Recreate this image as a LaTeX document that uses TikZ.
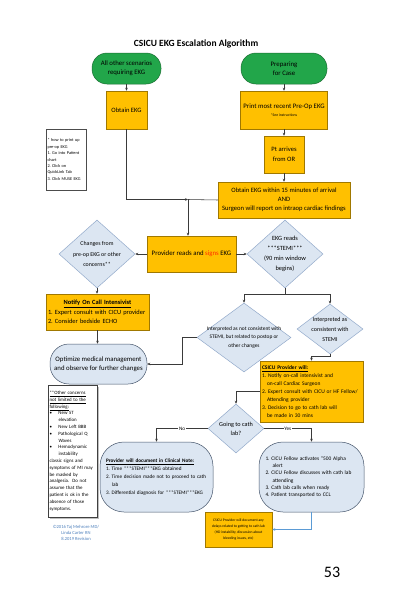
\documentclass[tikz,border=0pt]{standalone}
\usepackage{fontspec}
\setmainfont{Carlito}
\usetikzlibrary{shapes.geometric,arrows.meta,calc,shadows}
\definecolor{grn}{HTML}{22A64A}
\definecolor{grnd}{HTML}{1B6E33}
\definecolor{org}{HTML}{FFC000}
\definecolor{orgd}{HTML}{A07800}
\definecolor{lb}{HTML}{DCE6F2}
\definecolor{lbd}{HTML}{93AACB}
\definecolor{lbdk}{HTML}{44546A}
\definecolor{ln}{HTML}{3A3A3A}
\definecolor{cpy}{HTML}{4F81BD}
\definecolor{arb}{HTML}{5B9BD5}
\definecolor{sred}{HTML}{FF2A00}
\newcommand{\fsz}[2]{\fontsize{#1}{#2}\selectfont}
\newcommand{\bl}{\makebox[9pt][l]{\textbullet}}
\begin{document}
\begin{tikzpicture}[x=1pt,y=-1pt,
 term/.style={rectangle,rounded corners=15pt,fill=grn,draw=grnd,line width=0.5pt,align=center,inner sep=0pt,font=\fsz{6.8}{9}},
 obox/.style={rectangle,fill=org,draw=orgd,line width=0.5pt,align=center,inner sep=0pt},
 dia/.style={diamond,fill=lb,draw=lbd,line width=0.5pt,inner sep=0pt},
 lbox/.style={rectangle,fill=lb,draw=lbdk,line width=0.5pt,inner sep=0pt},
 conn/.style={draw=ln,line width=0.55pt,-{Stealth[length=3pt,width=2.6pt]}},
 plain/.style={draw=ln,line width=0.55pt},
 txt/.style={inner sep=0pt,align=center},
 lab/.style={fill=white,inner sep=0.6pt,font=\fsz{5.2}{6}},
]
\useasboundingbox (0,0) rectangle (400,600);
\fill[white] (0,0) rectangle (400,600);

\node[txt,font=\bfseries\fsz{9.5}{11}] (title) at (196,44) {CSICU EKG Escalation Algorithm};

% green terminators
\node[term,minimum width=69pt,minimum height=31pt] (g1) at (126.5,68.5) {All other scenarios\\requiring EKG};
\node[term,minimum width=86pt,minimum height=31pt] (g2) at (284,68.5) {Preparing\\for Case};

% orange boxes
\node[obox,minimum width=41pt,minimum height=38pt,font=\fsz{6.6}{8}] (o1) at (126.5,110) {Obtain EKG};
\node[obox,minimum width=87pt,minimum height=38pt,font=\fsz{6.8}{8.5}] (o2) at (284,110) {Print most recent Pre-Op EKG\\{\fsz{3.8}{5}*See instructions}};
\node[obox,minimum width=40pt,minimum height=37pt,font=\fsz{6.6}{10}] (o3) at (284,154.5) {Pt arrives\\from OR};
\node[obox,minimum width=132pt,minimum height=36pt,font=\fsz{6.6}{9}] (o4) at (284,200) {Obtain EKG within 15 minutes of arrival\\AND\\Surgeon will report on intraop cardiac findings};
\node[obox,minimum width=89pt,minimum height=36pt,font=\fsz{6.8}{8}] (o5) at (191.5,254) {Provider reads and {\color{sred}signs} EKG};

% note 1
\node[rectangle,draw=black!70,line width=0.4pt,fill=white,minimum width=40pt,minimum height=61pt,inner sep=1.5pt,text width=37pt,align=left,font=\fsz{4.3}{6.4}] (n1) at (66,159.5) {* how to print up\\pre-op EKG\\1.\ Go into Patient\\chart\\2.\ Click on\\QuickLink Tab\\3.\ Click MUSE EKG};

% diamonds
\node[dia,minimum width=76pt,minimum height=68pt] (d1) at (97,254) {};
\node[txt,font=\fsz{5.9}{10.5}] (d1t) at (d1.center) {Changes from\\pre-op EKG or other\\concerns**};
\node[dia,minimum width=76pt,minimum height=68pt] (d2) at (285,254) {};
\node[txt,font=\fsz{6.4}{10}] (d2t) at (d2.center) {EKG reads\\***STEMI***\\(90 min window\\begins)};

% notify box
\node[obox,minimum width=103pt,minimum height=36pt,text width=99pt,align=left,font=\fsz{6.4}{9.5}] (o6) at (97.5,312) {\makebox[\linewidth][c]{\underline{\textbf{Notify On Call Intensivist}}}\\1.\ Expert consult with CICU provider\\2.\ Consider bedside ECHO};

% optimize terminator
\node[lbox,rounded corners=19pt,minimum width=97pt,minimum height=40pt,align=center,font=\fsz{6.8}{9}] (t1) at (98.5,364) {Optimize medical management\\and observe for further changes};

% interpretation diamonds
\node[dia,minimum width=94pt,minimum height=69pt] (d3) at (244,337.5) {};
\node[txt,font=\fsz{5.4}{8.5}] (d3t) at (d3.center) {Interpreted as not consistent with\\STEMI, but related to postop or\\other changes};
\node[dia,minimum width=66pt,minimum height=50pt] (d4) at (330,329) {};
\node[txt,font=\fsz{6}{10}] (d4t) at (d4.center) {Interpreted as\\consistent with\\STEMI};

% CSICU provider box
\node[obox,minimum width=103pt,minimum height=61pt,text width=99pt,align=left,font=\fsz{5.5}{8}] (o7) at (311.5,391.5) {\underline{\textbf{CSICU Provider will:}}\\1.\ Notify on-call intensivist and\\\hspace*{5pt}on-call Cardiac Surgeon\\2.\ Expert consult with CICU or HF Fellow/\\\hspace*{5pt}Attending provider\\3.\ Decision to go to cath lab will\\\hspace*{5pt}be made in 30 mins};

% going to cath lab
\node[dia,minimum width=56pt,minimum height=49pt] (d5) at (236,428.5) {};
\node[txt,font=\fsz{6.2}{9}] (d5t) at (d5.center) {Going to cath\\lab?};

% big rounded boxes
\node[lbox,rounded corners=24pt,minimum width=113pt,minimum height=70pt,text width=101pt,align=left,font=\fsz{5.2}{8}] (b1) at (156.5,477) {\underline{\textbf{Provider will document in Clinical Note:}}\\1.\ Time ***STEMI***EKG obtained\\2.\ Time decision made not to proceed to cath\\\hspace*{6pt}lab\\3.\ Differential diagnosis for ***STEMI***EKG};
\node[lbox,rounded corners=24pt,minimum width=105pt,minimum height=70pt,text width=92pt,align=left,font=\fsz{5.4}{7.3}] (b2) at (311.5,477) {1.\ CICU Fellow activates ``500 Alpha\\\hspace*{7pt}alert\\2.\ CICU Fellow discusses with cath lab\\\hspace*{7pt}attending\\3.\ Cath lab calls when ready\\4.\ Patient transported to CCL};

% small orange box
\node[obox,drop shadow={shadow xshift=1.3pt,shadow yshift=-1.3pt,opacity=0.35},minimum width=67pt,minimum height=35pt,font=\fsz{3.7}{6}] (o8) at (238.5,529.5) {CSICU Provider will document any\\delays related to getting to cath lab\\(HD instability, discussion about\\bleeding issues, etc)};

% note 2
\node[rectangle,draw=black!75,line width=0.5pt,fill=white,drop shadow={shadow xshift=1.5pt,shadow yshift=-1.5pt,opacity=0.5},minimum width=49pt,minimum height=132pt,inner sep=1.5pt,text width=46pt,align=left,font=\fsz{4.9}{6.8}] (n2) at (72.5,451) {\underline{**Other concerns}\\\underline{not limited to the}\\\underline{following:}\\\bl New ST\\\hspace*{9pt}elevation\\\bl New Left BBB\\\bl Pathological Q\\\hspace*{9pt}Waves\\\bl Hemodynamic\\\hspace*{9pt}instability\\*classic signs and\\symptoms of MI may\\be masked by\\analgesia.\ \ Do not\\assume that the\\patient is ok in the\\absence of those\\symptoms.};

% copyright and page number
\node[txt,text=cpy,font=\fsz{4.6}{6}] (cpyr) at (76,533) {\textcopyright 2016 Taj Mehrore MD/\\Linda Carter RN\\8.2019 Revision};
\node[txt,font=\fsz{16}{18}] (pg) at (332,572) {53};

% connectors
\coordinate (j) at (188,199.5);
\draw[conn] (g1.south) -- (o1.north);
\draw[conn] (g2.south) -- (o2.north);
\draw[conn] (o2.south) -- (o3.north);
\draw[conn] (o3.south) -- (o4.north);
\draw[conn] (o1.south) |- (j);
\draw[plain] (o4.west) -- (j);
\draw[conn] (j) -- (j |- o5.north);
\draw[conn] (o5.west) -- (d1.east);
\draw[conn] (o5.east) -- (d2.west);
\draw[conn] (d1.south) -- (d1.south |- o6.north);
\draw[conn] (o6.south) -- (o6.south |- t1.north);
\coordinate (s) at ($(d2.south)+(0,6)$);
\draw[plain] (d2.south) -- (s);
\draw[conn] (s) -| (d3.north);
\draw[conn] (s) -| (d4.north);
\draw[conn] (d3.west) -- ++(-14,0) |- (t1.east);
\draw[conn] (d4.south) -- ++(0,2.5) -| (o7.north);
\draw[conn] (o7.west) -| (d5.north);
\draw[conn] (d5.west) -| node[lab,pos=0.25] (nolab) {No} (b1.north);
\draw[conn] (d5.east) -| node[lab,pos=0.25] (yeslab) {Yes} (b2.north);
\draw[conn,draw=arb] (b2.south) |- (o8.east);
\end{tikzpicture}
\end{document}
